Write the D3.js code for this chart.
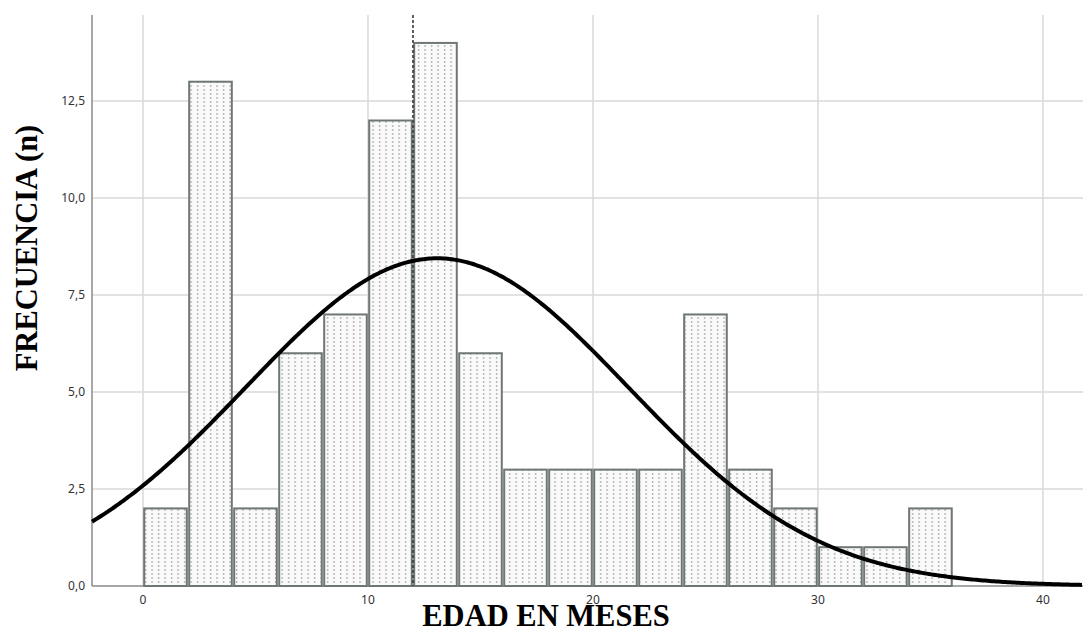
<!DOCTYPE html>
<html><head><meta charset="utf-8">
<script src="https://cdn.jsdelivr.net/npm/d3@7"></script>
<style>body{margin:0;background:#fff;}svg{display:block;}</style>
</head><body>
<svg id="c" width="1083" height="633"></svg>
<script>
// Data
const binStarts = [0,2,4,6,8,10,12,14,16,18,20,22,24,26,28,30,32,34];
const binWidth = 2;
const frequencies = [2,13,2,6,7,12,14,6,3,3,3,3,7,3,2,1,1,2];
const xTicks = [0,10,20,30,40];
const yTicks = [0,2.5,5,7.5,10,12.5];
const refLineX = 12;          // dashed reference line
const fitMean = 13.07;        // normal curve parameters
const fitSD = 8.5;
const xTitle = "EDAD EN MESES";
const yTitle = "FRECUENCIA (n)";

const svg = d3.select("#c");
const L = 92, R = 1083, T = 15, B = 586;
const x = d3.scaleLinear().domain([-2.267, 41.78]).range([L, R]);
const y = d3.scaleLinear().domain([0, 14.72]).range([B, T]);

// pattern
const defs = svg.append("defs");
const pat = defs.append("pattern").attr("id","dots").attr("patternUnits","userSpaceOnUse")
  .attr("width",6.5).attr("height",4);
pat.append("rect").attr("width",6.5).attr("height",4).attr("fill","#fafafa");
pat.append("rect").attr("x",2).attr("y",1).attr("width",1.2).attr("height",2).attr("fill","#a8a8a8");

// grid
svg.append("g").selectAll("line").data(yTicks.filter(d=>d>0)).join("line")
  .attr("x1",L).attr("x2",R).attr("y1",d=>y(d)).attr("y2",d=>y(d))
  .attr("stroke","#d9d9d9").attr("stroke-width",1.5);
svg.append("g").selectAll("line").data(xTicks).join("line")
  .attr("x1",d=>x(d)).attr("x2",d=>x(d)).attr("y1",T).attr("y2",B)
  .attr("stroke","#d9d9d9").attr("stroke-width",1.5);

// axes lines
svg.append("line").attr("x1",L).attr("x2",L).attr("y1",T).attr("y2",B).attr("stroke","#8a8a8a").attr("stroke-width",1.5);
svg.append("line").attr("x1",L).attr("x2",R).attr("y1",B).attr("y2",B).attr("stroke","#8a8a8a").attr("stroke-width",1.5);

// bars
svg.append("g").selectAll("rect").data(binStarts).join("rect")
  .attr("x",(d)=>x(d)+1.2)
  .attr("width",d=>x(d+binWidth)-x(d)-2.4)
  .attr("y",(d,i)=>y(frequencies[i]))
  .attr("height",(d,i)=>y(0)-y(frequencies[i]))
  .attr("fill","url(#dots)").attr("stroke","#6e7771").attr("stroke-width",2);

// reference dashed line
svg.append("line").attr("x1",x(refLineX)).attr("x2",x(refLineX)).attr("y1",T).attr("y2",B)
  .attr("stroke","#3a3a3a").attr("stroke-width",1.6).attr("stroke-dasharray","3,2");

// normal curve
const N = d3.sum(frequencies);
const xs = d3.range(x.domain()[0], x.domain()[1]+0.01, 0.1);
const pdf = v => N*binWidth/(fitSD*Math.sqrt(2*Math.PI))*Math.exp(-0.5*((v-fitMean)/fitSD)**2);
svg.append("path").datum(xs)
  .attr("d", d3.line().x(d=>x(d)).y(d=>y(pdf(d))).curve(d3.curveBasis))
  .attr("fill","none").attr("stroke","#000").attr("stroke-width",4);

// tick labels
const fmt = d => d3.format(".1f")(d).replace(".", ",");
svg.append("g").selectAll("text").data(yTicks).join("text")
  .attr("x",85).attr("y",d=>y(d)+4).attr("text-anchor","end")
  .attr("font-family","'Noto Sans', sans-serif").attr("font-size",12).attr("fill","#333")
  .text(fmt);
svg.append("g").selectAll("text").data(xTicks).join("text")
  .attr("x",d=>x(d)).attr("y",604).attr("text-anchor","middle")
  .attr("font-family","'Noto Sans', sans-serif").attr("font-size",12).attr("fill","#333")
  .text(d=>d);

// titles
svg.append("text").attr("x",546).attr("y",626).attr("text-anchor","middle")
  .attr("font-family","'Liberation Serif', serif").attr("font-weight","bold").attr("font-size",30.5)
  .attr("fill","#000").text(xTitle);
svg.append("text").attr("transform","translate(37,248) rotate(-90)").attr("text-anchor","middle")
  .attr("font-family","'Liberation Serif', serif").attr("font-weight","bold").attr("font-size",30.5)
  .attr("fill","#000").text(yTitle);
</script>
</body></html>
